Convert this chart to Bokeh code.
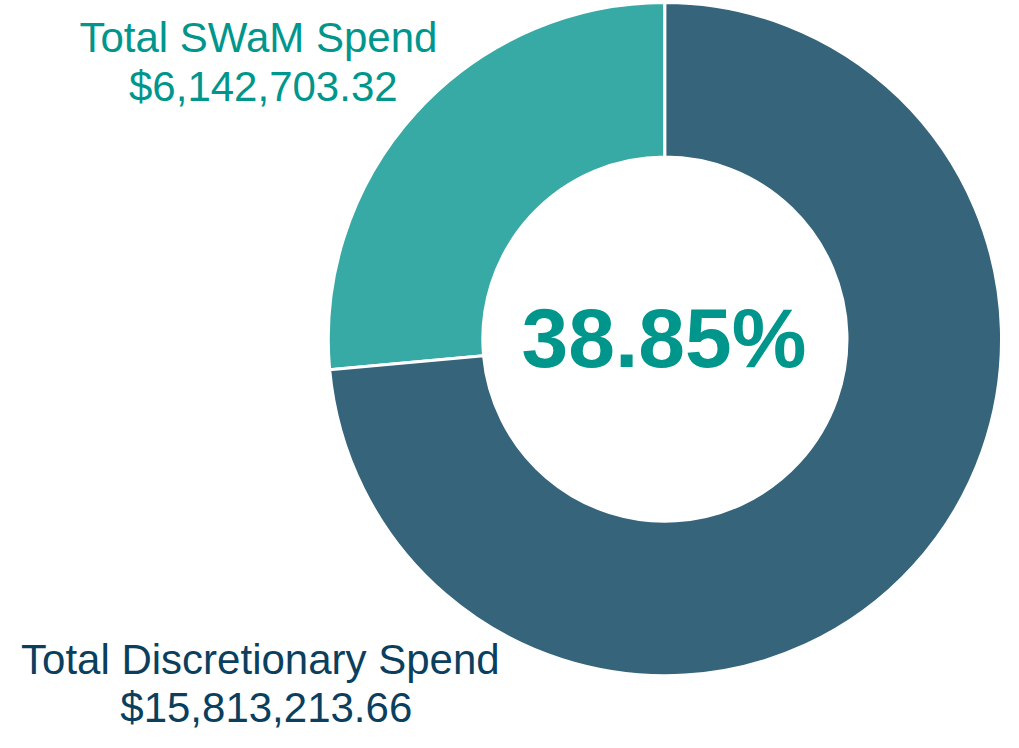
import math
from bokeh.plotting import figure
from bokeh.models import Range1d, ColumnDataSource
from bokeh.core.properties import value
from bokeh.embed import file_html
from bokeh.resources import INLINE

# ---- data ----
categories = ["Total SWaM Spend", "Total Discretionary Spend"]
amount_labels = ["$6,142,703.32", "$15,813,213.66"]
slice_shares = [26.45, 73.55]          # share of the ring (%)
center_label = "38.85%"
slice_colors = ["#38AAA5", "#35647B"]
label_colors = ["#00968C", "#0B3F5E"]

W, H = 1003, 732
REF_W, REF_H = 1019, 748   # layout coordinate space

def dy(y_img):
    return REF_H - y_img

p = figure(width=W, height=H, output_backend="svg", toolbar_location=None,
           x_range=Range1d(0, REF_W), y_range=Range1d(0, REF_H),
           min_border=0)
p.axis.visible = False
p.grid.visible = False
p.outline_line_color = None
p.background_fill_color = "white"
p.border_fill_color = "white"

cx, cy = 675, dy(346)
r_out, r_in = 342, 185

# wedges: start at 12 o'clock, go counter-clockwise
total = sum(slice_shares)
starts, ends = [], []
a = math.pi / 2
for s in slice_shares:
    starts.append(a)
    a += 2 * math.pi * s / total
    ends.append(a)

src = ColumnDataSource(dict(cat=categories, start=starts, end=ends, color=slice_colors))
p.annular_wedge(x=cx, y=cy, inner_radius=r_in, outer_radius=r_out,
                start_angle="start", end_angle="end", color="color",
                line_color="white", line_width=3, source=src)

font = value("Liberation Sans")
# SWaM label (top left)
p.text(x=[262, 267], y=[dy(38), dy(88)], text=[categories[0], amount_labels[0]],
       text_font=font, text_font_size="42px", text_color=label_colors[0],
       text_align="center", text_baseline="alphabetic")
# Discretionary label (bottom left)
p.text(x=[264, 270], y=[dy(673), dy(722)], text=[categories[1], amount_labels[1]],
       text_font=font, text_font_size="42px", text_color=label_colors[1],
       text_align="center", text_baseline="alphabetic")
# center percentage
p.text(x=[674], y=[dy(345)], text=[center_label], text_font=font,
       text_font_size="84px", text_font_style="bold", text_color=label_colors[0],
       text_align="center", text_baseline="alphabetic")

open("out.html", "w").write(file_html(p, INLINE))
